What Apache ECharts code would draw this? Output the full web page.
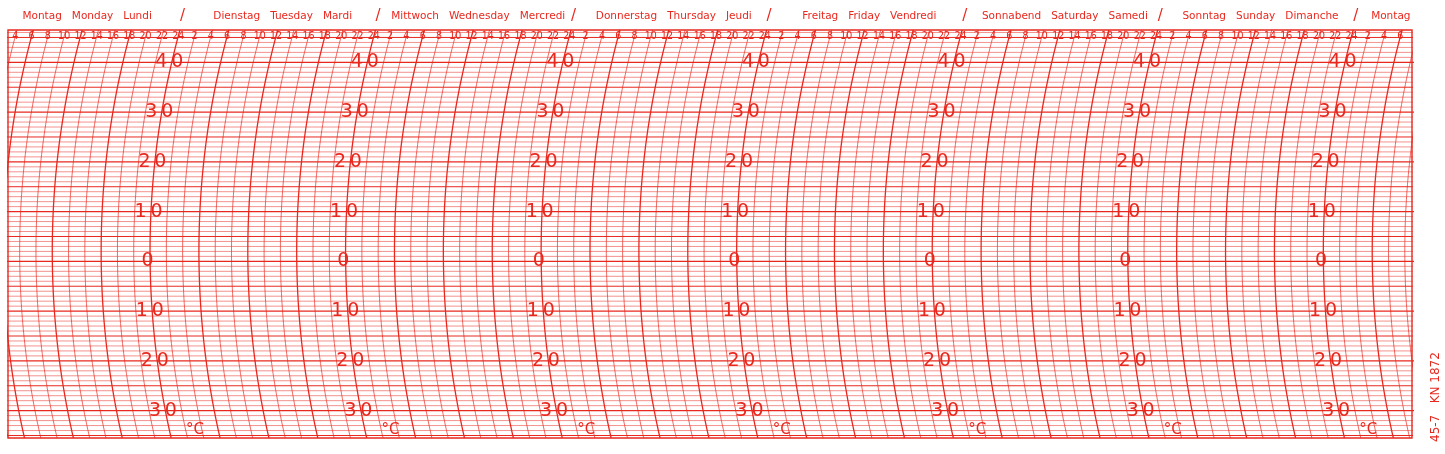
<!DOCTYPE html>
<html><head><meta charset="utf-8">
<script src="https://cdn.jsdelivr.net/npm/echarts@6/dist/echarts.min.js"></script>
<style>html,body{margin:0;background:#fff}#c{width:1445px;height:454px}</style>
</head><body><div id="c"></div>
<script>
const dayNames = ["Montag   Monday   Lundi","Dienstag   Tuesday   Mardi","Mittwoch   Wednesday   Mercredi","Donnerstag   Thursday   Jeudi","Freitag   Friday   Vendredi","Sonnabend   Saturday   Samedi","Sonntag   Sunday   Dimanche","Montag"];
const tempLabels = [40,30,20,10,0,-10,-20,-30];
const hourStart = 4, hourEnd = 174;
const tMin = -35.5, tMax = 46.5;
const RED = '#e8281e';
const PXH = 8.146, PXT = 4.98, R = 836, T0 = 2, SAG = 30;
function off(T){ const dy=(T-T0)*PXT; return -(SAG-(R-Math.sqrt(R*R-dy*dy)))/PXH; }
const series=[];
for(let t=-35;t<=46;t++){
  const w = t%10===0?1.3:(t%5===0?1.0:0.6);
  series.push({type:'line',silent:true,symbol:'none',z:1,data:[[-10,t],[190,t]],lineStyle:{color:RED,width:w,opacity:t%5===0?1:0.85}});
}
const temps=[];for(let t=tMin;t<=tMax+0.01;t+=0.5)temps.push(t);
for(let h=2;h<=180;h+=2){
  const m=h%24, w=(m%6===0)?1.3:0.7;
  series.push({type:'line',silent:true,symbol:'none',z:1,data:temps.map(t=>[h+off(t),t]),lineStyle:{color:RED,width:w}});
}
const lab=(size,extra)=>Object.assign({show:true,position:'inside',formatter:p=>p.name,color:RED,opacity:1,fontSize:size,fontFamily:'DejaVu Sans',textBorderWidth:0},extra||{});
const hrData=[];for(let h=hourStart;h<=hourEnd;h+=2)hrData.push({value:[h+off(45.2),45.2],name:String(h%24===0?24:h%24)});
series.push({type:'scatter',z:5,symbolSize:0,data:hrData,label:lab(10.5,{fontFamily:'DejaVu Sans Condensed'})});
const dn=dayNames.map((n,i)=>({value:[i<7?12.6+24*i:172.6,49.3],name:n}));
series.push({type:'scatter',z:5,symbolSize:0,clip:false,data:dn,label:lab(10.5)});
const sl=[];for(let d=1;d<=7;d++)sl.push({value:[24*d+0.3,49.2],name:'/'});
series.push({type:'scatter',z:5,symbolSize:0,clip:false,data:sl,label:lab(15)});
const tl=[];for(let d=1;d<=7;d++)for(const t of tempLabels)tl.push({value:[24*d+off(t)-0.3,t],name:String(Math.abs(t)).split('').join('\u2009')});
series.push({type:'scatter',z:5,symbolSize:0,data:tl,label:lab(19)});
const cl=[];for(let d=1;d<=7;d++)cl.push({value:[24*d+off(-33.5)+3.2,-34],name:'°C'});
series.push({type:'scatter',z:5,symbolSize:0,data:cl,label:lab(15)});
const chart=echarts.init(document.getElementById('c'));
chart.setOption({animation:false,
 grid:{left:8,right:33,top:30,bottom:16,show:true,borderColor:RED,borderWidth:1.4},
 xAxis:{type:'value',min:2.885,max:175.2,show:false},
 yAxis:{type:'value',min:tMin,max:tMax,show:false},
 graphic:[{type:'text',x:1430,y:442,rotation:Math.PI/2,style:{text:'45-7   KN 1872',fill:RED,font:'12px DejaVu Sans'}}],
 series});
</script></body></html>
